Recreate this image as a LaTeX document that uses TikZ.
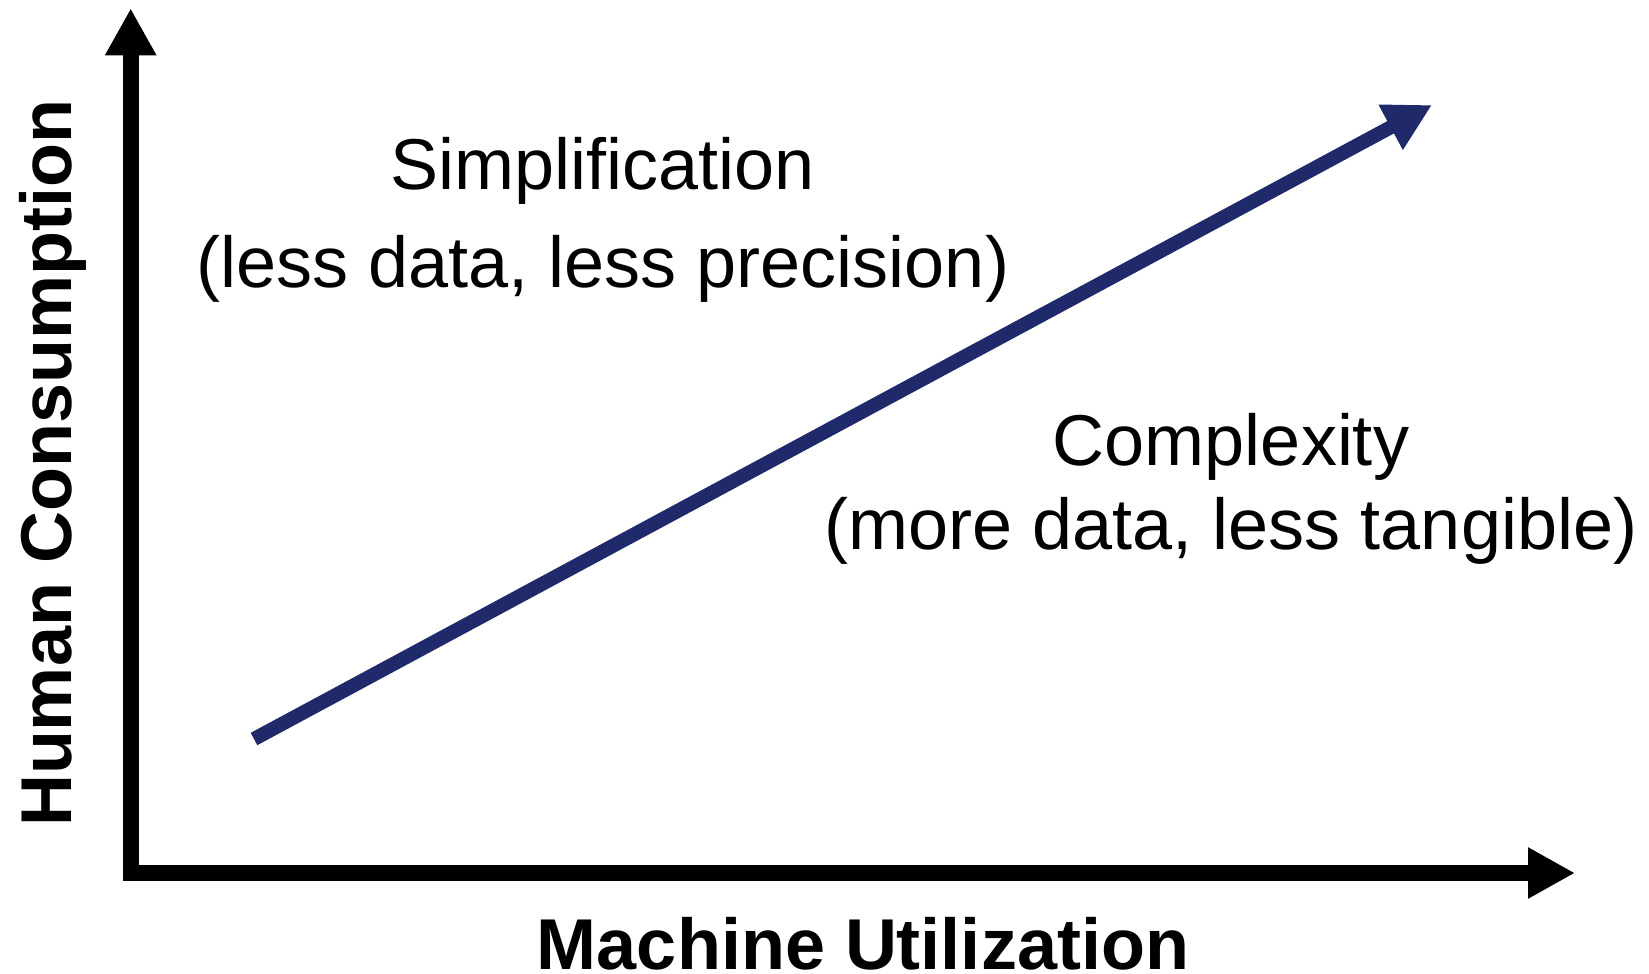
\documentclass[tikz,border=0pt]{standalone}
\usepackage{fontspec}
\setmainfont{Liberation Sans}
\usetikzlibrary{arrows.meta}
\definecolor{navy}{RGB}{32,42,107}
\tikzset{
  axis/.style={line width=16pt, black, -{Triangle[length=47pt,width=48pt]}},
  trend/.style={line width=14pt, navy, -{Triangle[length=47pt,width=48pt]}},
  label/.style={font=\fontsize{72}{80}\selectfont, inner sep=0pt, anchor=base},
  axislabel/.style={font=\fontsize{72}{80}\selectfont\bfseries, inner sep=0pt, anchor=base}
}
\begin{document}
\begin{tikzpicture}[x=1pt, y=-1pt]
\useasboundingbox (0,0) rectangle (1649,974);
% axes
\coordinate (ybot) at (130.7,881);
\coordinate (ytop) at (130.7,8.3);
\coordinate (xleft) at (122.7,873);
\coordinate (xright) at (1575,873);
\draw[axis] (ybot) -- (ytop);
\draw[axis] (xleft) -- (xright);
% trend arrow
\coordinate (tstart) at (254,739);
\coordinate (tend) at (1432,105);
\draw[trend] (tstart) -- (tend);
% texts
\node[label] (simp) at (603,189) {Simplification};
\node[label] (simpsub) at (603,287) {(less data, less precision)};
\node[label] (comp) at (1231,465) {Complexity};
\node[label] (compsub) at (1231,549) {(more data, less tangible)};
\node[axislabel] (xlab) at (863,969) {Machine Utilization};
\node[axislabel, rotate=90] (ylab) at (71.5,463) {Human Consumption};
\end{tikzpicture}
\end{document}
